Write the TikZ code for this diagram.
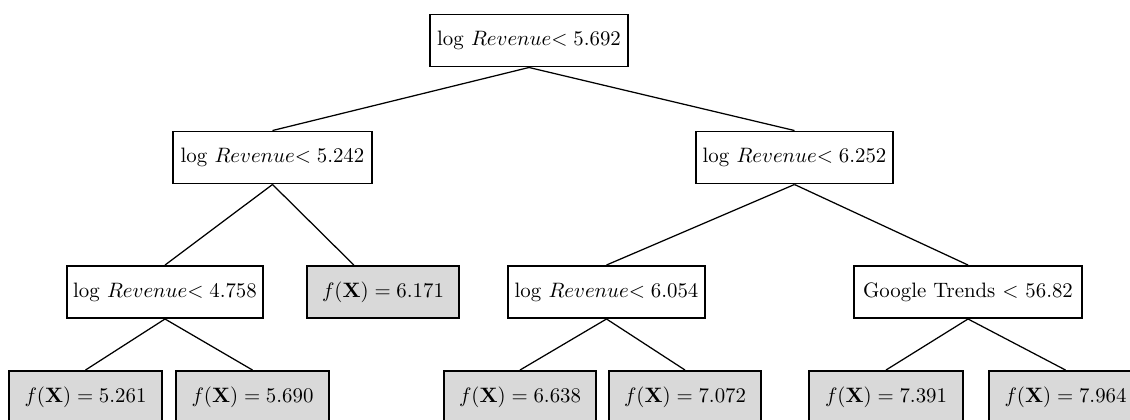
\documentclass[tikz,border=0pt]{standalone}
\usepackage{amssymb}
\usepackage{amsmath}
\definecolor{leafgray}{RGB}{217,217,217}

\begin{document}
\begin{tikzpicture}[x=0.48pt, y=-0.48pt,
	split/.style={draw, line width=0.9pt, fill=white, inner sep=0pt, minimum height=25pt},
	leaf/.style={split, fill=leafgray},
	branch/.style={line width=0.6pt}]
	\useasboundingbox (0,0) rectangle (1130,419);
	\clip (0,0) rectangle (1130,419);
	\begin{scope}[every node/.append style = {split}]
		\node[minimum width=95pt] (A) at (529,40.5) {$\log\, Revenue\mkern-5mu< 5.692$};
		\node[minimum width=95.5pt] (B) at (272.5,157.5) {$\log\, Revenue\mkern-5mu< 5.242$};
		\node[minimum width=94.6pt] (C) at (794.5,157.5) {$\log\, Revenue\mkern-5mu< 6.252$};
		\node[minimum width=94pt] (D) at (165,292) {$\log\, Revenue\mkern-5mu< 4.758$};
		\node[minimum width=94.6pt] (F) at (606.5,292) {$\log\, Revenue\mkern-5mu< 6.054$};
		\node[minimum width=109.4pt] (G) at (968,292) {Google Trends $<$ 56.82};
	\end{scope}
	\begin{scope}[every node/.append style = {leaf}]
		\node[minimum width=73pt] (E) at (383,292) {$f(\mathbf{X}) = 6.171$};
		\node[minimum width=73.4pt] (H) at (85.5,397) {$f(\mathbf{X}) = 5.261$};
		\node[minimum width=73.4pt] (I) at (252.5,397) {$f(\mathbf{X}) = 5.690$};
		\node[minimum width=73pt] (J) at (520,397) {$f(\mathbf{X}) = 6.638$};
		\node[minimum width=73pt] (K) at (685,397) {$f(\mathbf{X}) = 7.072$};
		\node[minimum width=73.9pt] (L) at (886,397) {$f(\mathbf{X}) = 7.391$};
		\node[minimum width=73.4pt] (M) at (1065.5,397) {$f(\mathbf{X}) = 7.964$};
	\end{scope}
	\begin{scope}[branch]
		\draw (A.south) -- (B.north);
		\draw (A.south) -- (C.north);
		\draw (B.south) -- (D.north);
		\draw (B.south) -- ([xshift=-14pt]E.north);
		\draw (C.south) -- (F.north);
		\draw (C.south) -- (G.north);
		\draw (D.south) -- (H.north);
		\draw (D.south) -- (I.north);
		\draw (F.south) -- (J.north);
		\draw (F.south) -- (K.north);
		\draw (G.south) -- (L.north);
		\draw (G.south) -- (M.north);
	\end{scope}
\end{tikzpicture}
\end{document}
